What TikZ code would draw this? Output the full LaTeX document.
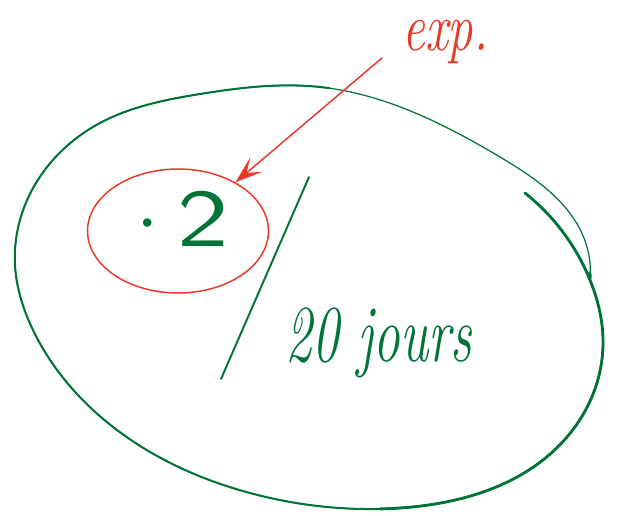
\documentclass[tikz,border=0pt]{standalone}
\usepackage{fontspec}
\usepackage{graphicx}
\usetikzlibrary{shapes.geometric,arrows.meta,hobby}
\definecolor{handgreen}{RGB}{0,115,55}
\definecolor{handred}{RGB}{232,58,40}
\begin{document}
\begin{tikzpicture}[x=0.02cm, y=-0.02cm,
  ringthin/.style={draw=handgreen, line width=0.7pt, line cap=round},
  ringmid/.style={draw=handgreen, line width=1.15pt, line cap=round},
  ringthick/.style={draw=handgreen, line width=1.6pt, line cap=round},
  slashline/.style={draw=handgreen, line width=1.1pt, line cap=round},
  redring/.style={ellipse, draw=handred, line width=0.85pt,
    minimum width=3.62cm, minimum height=2.48cm, inner sep=0pt,
    text=handgreen, font=\sffamily\fontsize{39}{39}\selectfont},
  redarrow/.style={draw=handred, line width=0.85pt, line cap=round,
    -{Stealth[length=5.5mm, width=3.8mm, inset=2.6mm]}},
  greentext/.style={text=handgreen, inner sep=0pt,
    font=\itshape\fontsize{46}{46}\selectfont},
  redtext/.style={text=handred, inner sep=0pt,
    font=\itshape\fontsize{28}{28}\selectfont},
]
\useasboundingbox (0,0) rectangle (618,515);

% big green loop: one stroke, thin on top right, heavier below
\path[use Hobby shortcut, save path=\looppath]
  (525,193) .. (590,280) .. (603,345) .. (567,437) .. (400,508)
  .. (250,493) .. (117,430) .. (33,330) .. (15,265) .. (32,190)
  .. (100,123) .. (200,94) .. (320,87) .. (500,157) .. (587,247)
  .. (590,279);
\draw[ringthin, use path=\looppath];
\begin{scope}
  \clip (0,0) -- (330,0) -- (330,100) -- (440,130) -- (520,180)
    -- (552,212) -- (578,248) -- (590,273) -- (618,290)
    -- (618,515) -- (0,515) -- cycle;
  \draw[ringmid, use path=\looppath];
  \clip (380,180) rectangle (618,515);
  \draw[ringthick, use path=\looppath];
\end{scope}

% divider
\coordinate (slashtop) at (309,177);
\coordinate (slashbot) at (221,379);
\draw[slashline] (slashtop) -- (slashbot);

% circled value
\node[redring, text depth=0.48cm] (circ) at (178,231)
  {\hspace{0.3cm}\raisebox{0.36cm}{\scalebox{0.5}{$\bullet$}}%
   \hspace{0.5cm}\scalebox{1.6}[1.2]{2}};

\node[greentext, anchor=base west] (jours) at (285,361)
  {\scalebox{0.66}[1]{20 jours}};

\node[redtext, anchor=base west] (exp) at (402,50)
  {\scalebox{1.03}[1.4]{exp.}};

\coordinate (tail) at (382,58);
\draw[redarrow] (tail) -- (circ);

\end{tikzpicture}
\end{document}
